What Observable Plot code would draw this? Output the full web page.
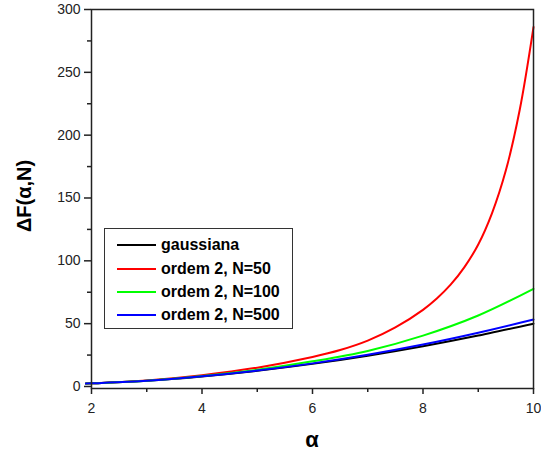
<!DOCTYPE html>
<html><head><meta charset="utf-8">
<script src="https://cdn.jsdelivr.net/npm/d3@7"></script>
<script src="https://cdn.jsdelivr.net/npm/@observablehq/plot@0.6"></script>
<style>
body{margin:0;background:#fff;font-family:"Liberation Sans",Arial,sans-serif;}
#wrap{position:relative;width:541px;height:454px;overflow:hidden;}
#wrap svg{position:absolute;left:0;top:0;}
.ttl{position:absolute;font-weight:bold;color:#000;white-space:nowrap;}
#ylab{left:24px;top:196px;font-size:20px;transform:translate(-50%,-50%) rotate(-90deg);}
#xlab{left:312px;top:440px;font-size:22px;transform:translate(-50%,-50%);}
#legend{position:absolute;left:104px;top:228px;width:187px;height:99px;border:1px solid #333;background:#fff;}
.row{position:absolute;left:0;height:20px;}
.row .ln{position:absolute;left:12px;width:39px;height:2px;top:9px;}
.row .tx{position:absolute;left:56px;top:0;font-size:16px;font-weight:bold;line-height:20px;white-space:nowrap;color:#000;}
</style>
</head><body><div id="wrap"></div>
<script>
const alphaBlack = [1.9, 2, 3, 4, 5, 6, 7, 8, 9, 10];
const gaussiana  = [2.3, 2.5, 4.5, 8, 12.5, 18, 24.5, 32, 40.5, 50];
const alphaBlue  = [1.9, 2, 3, 4, 5, 6, 7, 8, 9, 10];
const ordem500   = [2.3, 2.5, 4.5, 8.1, 12.7, 18.4, 25.3, 33.4, 42.8, 53.3];
const alphaGreen = [1.9, 2, 3, 4, 5, 6, 7, 8, 9, 10];
const ordem100   = [2.3, 2.5, 4.6, 8.3, 13.3, 20, 28.3, 40.5, 56.5, 77.7];
const alphaRed   = [1.9, 2, 3, 4, 5, 6, 6.5, 7, 7.5, 8, 8.25, 8.5, 8.75, 9, 9.25, 9.5, 9.75, 10];
const ordem50    = [2.3, 2.5, 4.8, 9, 15, 23.5, 29, 36.5, 47, 61, 70, 81, 95, 113, 138, 172, 220, 286];

const seriesNames = ["gaussiana", "ordem 2, N=50", "ordem 2, N=100", "ordem 2, N=500"];
const seriesColors = ["#000000", "#ff0000", "#00ff00", "#0000ff"];
const xMajor = [2, 4, 6, 8, 10];
const xMinor = [3, 5, 7, 9];
const yMajor = [0, 50, 100, 150, 200, 250, 300];
const yMinor = [25, 75, 125, 175, 225, 275];

const mk = (xs, ys, name) => xs.map((a, i) => ({a, v: ys[i], s: name}));
const data = [
  ...mk(alphaBlack, gaussiana, seriesNames[0]),
  ...mk(alphaRed, ordem50, seriesNames[1]),
  ...mk(alphaGreen, ordem100, seriesNames[2]),
  ...mk(alphaBlue, ordem500, seriesNames[3])
];

const chart = Plot.plot({
  width: 541, height: 454,
  marginLeft: 91, marginRight: 8, marginTop: 9, marginBottom: 66,
  style: {fontFamily: "'Liberation Sans', Arial, sans-serif", fontSize: "14px", color: "#222", background: "#fff"},
  x: {domain: [2, 10], label: null},
  y: {domain: [-1.6, 300], label: null},
  color: {domain: seriesNames, range: seriesColors},
  marks: [
    Plot.axisX(xMajor, {tickSize: 6, tickPadding: 9, fontSize: 14, stroke: "#222", strokeWidth: 1.5, fill: "#222", label: null}),
    Plot.axisX(xMinor, {tickSize: 4, tickFormat: () => "", stroke: "#222", strokeWidth: 1.5, label: null}),
    Plot.axisY(yMajor, {tickSize: 7, tickPadding: 4, fontSize: 14, stroke: "#222", strokeWidth: 1.5, fill: "#222", label: null}),
    Plot.axisY(yMinor, {tickSize: 4, tickFormat: () => "", stroke: "#222", strokeWidth: 1.5, label: null}),
    Plot.line(data, {x: "a", y: "v", z: "s", stroke: "s", strokeWidth: 2, curve: "catmull-rom"}),
    Plot.frame({stroke: "#222", strokeWidth: 1.5})
  ]
});

const wrap = document.getElementById("wrap");
wrap.appendChild(chart);

const yl = document.createElement("div"); yl.className = "ttl"; yl.id = "ylab"; yl.textContent = "ΔF(α,N)"; wrap.appendChild(yl);
const xl = document.createElement("div"); xl.className = "ttl"; xl.id = "xlab"; xl.textContent = "α"; wrap.appendChild(xl);

const lg = document.createElement("div"); lg.id = "legend";
const rowTops = [6, 29.5, 52.5, 75.5];
seriesNames.forEach((n, i) => {
  const r = document.createElement("div"); r.className = "row"; r.style.top = rowTops[i] + "px";
  const l = document.createElement("div"); l.className = "ln"; l.style.background = seriesColors[i];
  const t = document.createElement("div"); t.className = "tx"; t.textContent = n;
  r.appendChild(l); r.appendChild(t); lg.appendChild(r);
});
wrap.appendChild(lg);
</script>
</body></html>
